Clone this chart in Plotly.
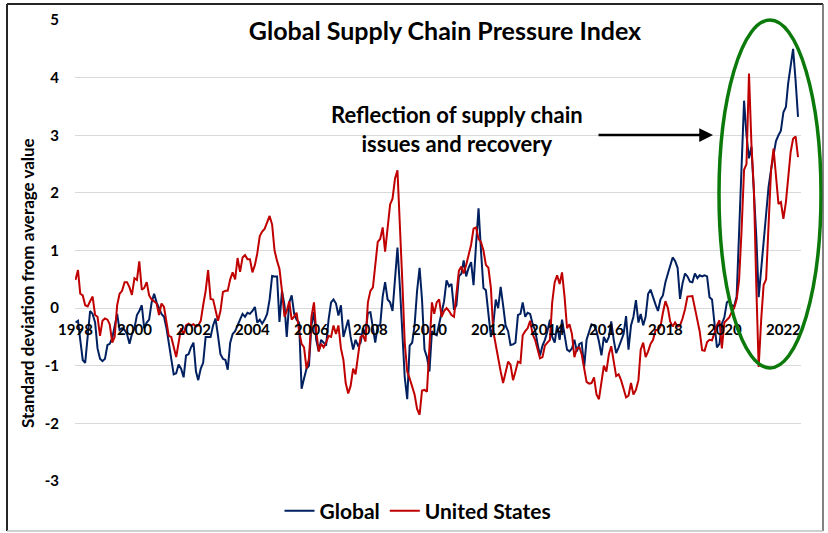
import pandas as pd
import plotly.graph_objects as go

# Monthly readings, Jan 1998 onward
start_month = "1998-01-01"

global_vals = [
    -0.25, -0.22, -0.55, -0.9, -0.95, -0.55, -0.05, -0.1, -0.25, -0.7, -0.88, -0.92,
    -0.88, -0.64, -0.62, -0.52, -0.3, -0.1, -0.38, -0.35, -0.38, -0.45, -0.62, -0.45,
    -0.35, -0.12, -0.05, 0.05, -0.35, -0.25, -0.2, 0.1, 0.25, 0.1, 0.0, -0.1,
    -0.15, -0.35, -0.6, -0.9, -1.15, -1.13, -0.98, -1.05, -1.2, -0.82, -0.8, -0.68,
    -0.6, -1.1, -1.25, -1.05, -0.95, -0.5, -0.5, -0.5, -0.3, -0.18, -0.48, -0.8,
    -0.88, -0.9, -1.07, -0.6, -0.45, -0.4, -0.3, -0.2, -0.1, -0.15, -0.08, -0.1,
    -0.05, 0.02, -0.25, -0.2, -0.27, -0.2, -0.1, 0.15, 0.56, 0.55, 0.55, -0.24,
    0.3, 0.05, -0.5, 0.1, 0.22, -0.1, -0.2, -0.25, -1.4, -1.22, -1.05, -1.0,
    -0.3, -0.07, -0.55, -0.75, -0.55, -0.6, -0.65, -0.2, 0.1, 0.15, 0.08, -0.13,
    0.05, -0.5, -0.35, -0.2, -0.5, -0.72, -0.55, -0.65, -0.6, -0.35, -0.45, -0.08,
    -0.07, -0.35, -0.6, -0.3, -0.3, 0.2, 0.45, 0.15, 0.1, -0.05, 0.6, 1.05,
    0.35, -0.45, -1.2, -1.58, -0.65, -0.6, -0.3, 0.3, 0.7, 0.15, -0.72, -0.85,
    -1.1, -0.4, -0.45, -0.47, -0.28, -0.06, 0.12, 0.48, 0.38, 0.42, -0.03, 0.05,
    0.55, 0.6, 0.83, 0.55, 0.7, 0.8, 0.4, 1.1, 1.73, 1.0, 0.35, 0.31,
    -0.1, -0.5, -0.3, 0.15, 0.0, 0.37, 0.05, -0.3, -0.4, -0.64, -0.63, -0.6,
    -0.12, -0.1, 0.1, -0.15, -0.08, -0.1, -0.27, -0.38, -0.62, -0.82, -0.65, -0.55,
    -0.4, -0.2, -0.5, -0.6, -0.3, -0.55, -0.2, -0.45, -0.72, -0.75, -0.7, -0.55,
    -0.75, -0.62, -0.6, -1.02, -0.55, -0.41, -0.28, -0.3, -0.4, -0.58, -0.82, -0.5,
    -0.6, -0.5, -0.23, -0.55, -0.78, -0.68, -0.58, -0.45, -0.14, -0.72, -0.3, -0.15,
    0.14, -0.25, -0.1, -0.3, -0.15, 0.25, 0.32, 0.17, 0.06, -0.05, 0.15, 0.22,
    0.45, 0.6, 0.75, 0.88, 0.82, 0.7, 0.16, 0.43, 0.6, 0.55, 0.46, 0.45,
    0.6, 0.52, 0.57, 0.55, 0.57, 0.55, 0.19, 0.15, -0.27, -0.68, -0.62, -0.27,
    -0.16, 0.1, 0.13, 0.05, 0.03, 0.2, 1.3, 2.5, 3.6, 3.0, 2.6, 2.8,
    2.04, 1.2, 0.19, 0.65, 1.23, 1.65, 2.1, 2.4, 2.68, 2.9, 3.0, 3.08,
    3.4, 3.49, 3.9, 4.24, 4.5, 3.95, 3.32,
]

us_vals = [
    0.49, 0.66, 0.25, 0.22, 0.05, 0.03, 0.12, 0.2, -0.12, -0.15, -0.48, -0.22,
    -0.18, -0.2, -0.28, -0.6, -0.5, 0.05, 0.25, 0.3, 0.45, 0.45, 0.36, 0.23,
    0.52, 0.49, 0.81, 0.32, 0.35, 0.45, 0.22, 0.15, 0.12, 0.08, -0.12, 0.08,
    0.02, -0.27, -0.48, -0.5, -0.66, -0.85, -0.6, -0.35, -0.45, -0.3, -0.27, -0.3,
    -0.28, -0.32, -0.3, -0.22, 0.05, 0.3, 0.66, 0.16, 0.15, -0.02, -0.22, -0.05,
    0.28, 0.3, 0.3, 0.5, 0.62, 0.5, 0.87, 0.63, 0.88, 0.92, 0.85, 0.85,
    0.62, 0.75, 0.95, 1.25, 1.33, 1.38, 1.5, 1.6, 1.45, 1.0, 0.82, 0.68,
    0.3, -0.15, -0.05, 0.12, -0.2, -0.15, -0.08, -0.4, -0.62, -0.68, -1.05, -0.88,
    -0.15, 0.1, -0.4, -0.75, -0.62, -0.68, -0.6, -0.48, -0.5, -0.3, -0.45, -0.3,
    -0.7, -0.9, -1.3, -1.48, -1.35, -1.05, -1.15, -0.85, -0.5, -0.47, -0.58, 0.1,
    0.3, 0.36, 0.75, 1.15, 1.2, 1.4, 0.98, 1.35, 1.8, 1.9, 2.25, 2.39,
    1.5, 0.4, -0.6, -1.1, -1.22, -1.35, -1.5, -1.75, -1.85, -1.43, -1.42, -1.45,
    -0.6, 0.1, -0.1, 0.1, 0.15, -0.15, -0.05, 0.0, -0.05, -0.12, -0.15, 0.3,
    0.65, 0.72, 0.6, 0.75, 0.92, 1.1, 1.38, 1.4, 1.2, 1.15, 1.0, 0.75,
    0.7, 0.35, -0.4, -0.65, -0.85, -1.1, -1.3, -1.1, -0.93, -0.98, -1.25, -1.1,
    -0.93, -0.95, -0.47, -0.4, -0.35, -0.22, -0.45, -0.55, -0.72, -0.87, -0.85, -0.65,
    -0.6, -0.55, 0.1, 0.45, 0.57, 0.42, 0.62, 0.2, -0.35, -0.28, -0.45, -0.85,
    -0.7, -0.68, -0.8, -1.05, -1.28, -1.31, -1.3, -1.2, -1.5, -1.58, -1.3, -1.0,
    -1.1, -0.8, -0.66, -0.95, -1.18, -1.15, -1.25, -1.4, -1.55, -1.52, -1.3, -1.5,
    -1.42, -1.25, -0.72, -0.6, -0.85, -0.75, -0.62, -0.55, -0.38, -0.38, -0.32, -0.08,
    0.12, 0.0, -0.23, -0.32, -0.25, -0.32, -0.3, -0.18, -0.02, 0.2, 0.21, 0.21,
    0.0, -0.2, -0.4, -0.73, -0.74, -0.59, -0.55, -0.56, -0.42, -0.3, -0.21, -0.7,
    -0.25, -0.21, -0.16, -0.07, 0.0, 0.15, 0.48, 1.35, 2.4, 2.5, 4.07, 2.85,
    2.04, 0.31, -1.02, -0.2, 0.4, 0.5, 1.58, 2.39, 2.77, 2.33, 1.81, 1.84,
    1.55, 1.84, 2.3, 2.71, 2.94, 2.98, 2.62,
]

tick_years = [1998, 2000, 2002, 2004, 2006, 2008, 2010, 2012, 2014, 2016, 2018, 2020, 2022]
y_ticks = [-3, -2, -1, 0, 1, 2, 3, 4, 5]

dates = pd.date_range(start_month, periods=len(global_vals), freq="MS")

FONT = "Lato, 'Open Sans', sans-serif"
BLUE = "#002060"
RED = "#C00000"

fig = go.Figure()
fig.add_trace(go.Scatter(x=dates, y=global_vals, mode="lines", name="Global",
                         line=dict(color=BLUE, width=2)))
fig.add_trace(go.Scatter(x=dates, y=us_vals, mode="lines", name="United States",
                         line=dict(color=RED, width=2)))

# plot area geometry (pixels) used for paper-relative placements
FW, FH = 828, 533
L, R, T, B = 75, 801, 20, 481
W, H = R - L, B - T

def px(x):
    return (x - L) / W

def py(y):
    return (B - y) / H

ymin, ymax = -3, 5

fig.update_layout(
    width=FW, height=FH,
    margin=dict(l=L, r=FW - R, t=T, b=FH - B, autoexpand=False),
    paper_bgcolor="white", plot_bgcolor="white",
    font=dict(family=FONT, color="black"),
    title=dict(text="<b>Global Supply Chain Pressure Index</b>",
               x=445 / FW, xanchor="center", y=1 - 31 / FH, yanchor="middle",
               font=dict(size=25, family=FONT, color="black")),
    showlegend=True,
    legend=dict(orientation="h", xref="container", yref="container",
                x=418 / FW, xanchor="center", y=1 - 511 / FH, yanchor="middle",
                font=dict(size=21, family=FONT, color="black", weight="bold"),
                itemwidth=30, bgcolor="rgba(0,0,0,0)"),
    xaxis=dict(
        range=[pd.Timestamp("1997-12-26"), pd.Timestamp("2022-08-07")],
        tickvals=[pd.Timestamp(f"{y}-01-01") for y in tick_years],
        ticktext=[str(y) for y in tick_years],
        anchor="free", position=(0 - ymin) / (ymax - ymin),
        showgrid=False, showline=False, zeroline=False, automargin=False,
        ticks="outside", ticklen=8, tickcolor="rgba(0,0,0,0)",
        tickfont=dict(size=15, family=FONT, color="black", weight="bold"),
    ),
    yaxis=dict(
        range=[ymin, ymax], tickvals=y_ticks,
        ticktext=[str(v) for v in y_ticks],
        showgrid=True, gridcolor="#d9d9d9", gridwidth=1,
        zeroline=False, showline=False, automargin=False,
        ticks="", ticklabelstandoff=15,
        tickfont=dict(size=15, family=FONT, color="black", weight="bold"),
    ),
)

# y-axis title
fig.add_annotation(text="<b>Standard deviation from average value</b>",
                   xref="paper", yref="paper", x=px(27), y=py(283),
                   xanchor="center", yanchor="middle",
                   showarrow=False, textangle=-90,
                   font=dict(size=17, family=FONT, color="black"))

# callout text
fig.add_annotation(text="<b>Reflection of supply chain<br>issues and recovery</b>",
                   xref="paper", yref="paper", x=px(457), y=py(129),
                   xanchor="center", yanchor="middle",
                   showarrow=False, align="center",
                   font=dict(size=22, family=FONT, color="black"))

# arrow
fig.add_annotation(text="", xref="paper", yref="paper", x=px(713), y=py(135),
                   ax=-116, ay=0, axref="pixel", ayref="pixel",
                   showarrow=True, arrowhead=2, arrowsize=1.1, arrowwidth=2.5,
                   arrowcolor="black")

# green ellipse
fig.add_shape(type="circle", xref="paper", yref="paper",
              x0=px(719), x1=px(821), y0=py(368), y1=py(20),
              line=dict(color="#0b7a0b", width=3.5))

# outer frame
fig.add_shape(type="line", xref="paper", yref="paper", x0=px(7), x1=px(823), y0=py(4), y1=py(4),
              line=dict(color="#262626", width=2))
fig.add_shape(type="line", xref="paper", yref="paper", x0=px(7), x1=px(7), y0=py(4), y1=py(531),
              line=dict(color="#262626", width=2))
fig.add_shape(type="line", xref="paper", yref="paper", x0=px(823), x1=px(823), y0=py(4), y1=py(531),
              line=dict(color="#595959", width=1.5))
fig.add_shape(type="line", xref="paper", yref="paper", x0=px(7), x1=px(823), y0=py(531), y1=py(531),
              line=dict(color="#bfbfbf", width=1.5))

fig.write_html("out.html", config={"displayModeBar": False},
               post_script="document.body.style.margin='0';")
